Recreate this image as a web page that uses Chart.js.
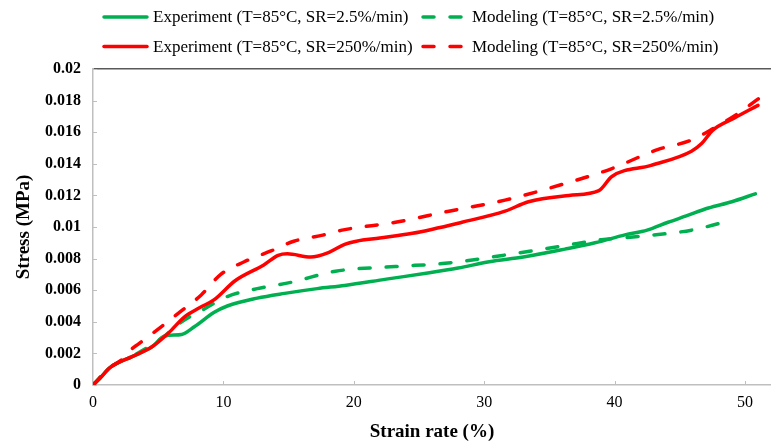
<!DOCTYPE html>
<html>
<head>
<meta charset="utf-8">
<script src="https://cdn.jsdelivr.net/npm/chart.js@4.4.1/dist/chart.umd.min.js"></script>
<style>
  html, body { margin: 0; padding: 0; background: #fff; }
  #wrap { position: relative; width: 771px; height: 445px; }
</style>
</head>
<body>
<div id="wrap"><canvas id="stress-chart"></canvas></div>
<script>
// --- DATA ---
const yTickLabels = ['0', '0.002', '0.004', '0.006', '0.008', '0.01', '0.012', '0.014', '0.016', '0.018', '0.02'];

// Experiment, T=85°C, SR=2.5%/min
const expSlowStrain = [0, 0.5, 1.3, 3.0, 4.5, 5.5, 6.8, 7.8, 9.3, 10.3, 12.6, 14.7, 17.2, 19.3, 22.5, 25.8, 28.0, 30.4, 33.0, 36.2, 38.5, 40.8, 42.5, 44.1, 45.5, 47.2, 49.0, 50.8];
const expSlowStress = [0, 0.0004, 0.0011, 0.0018, 0.0024, 0.0031, 0.0032, 0.0037, 0.0046, 0.0050, 0.0055, 0.0058, 0.0061, 0.0063, 0.0067, 0.0071, 0.0074, 0.0078, 0.0081, 0.0086, 0.0090, 0.0095, 0.0098, 0.0103, 0.0107, 0.0112, 0.0116, 0.0121];

// Modeling, T=85°C, SR=2.5%/min
const modSlowStrain = [0, 1.3, 3.2, 5.25, 6.8, 8.3, 10.3, 12.6, 15.2, 18.6, 23.2, 27.0, 31.4, 36.0, 39.0, 41.8, 45.9, 48.4];
const modSlowStress = [0, 0.0011, 0.0019, 0.00295, 0.0040, 0.0047, 0.0056, 0.0061, 0.0065, 0.0072, 0.0075, 0.0077, 0.0082, 0.0088, 0.0092, 0.0094, 0.0098, 0.0103];

// Experiment, T=85°C, SR=250%/min
const expFastStrain = [0, 0.5, 1.3, 3.0, 4.5, 5.8, 7.0, 8.2, 9.3, 10.9, 13.1, 14.2, 14.9, 16.7, 18.1, 19.3, 20.2, 22.0, 24.5, 28.3, 31.6, 33.4, 36.5, 38.8, 39.8, 42.8, 45.9, 46.7, 47.5, 49.2, 51.0];
const expFastStress = [0, 0.0004, 0.0011, 0.0018, 0.0024, 0.0033, 0.0043, 0.0049, 0.0054, 0.0066, 0.0076, 0.0082, 0.0083, 0.0081, 0.0084, 0.0089, 0.0091, 0.0093, 0.0096, 0.0103, 0.0110, 0.0116, 0.0120, 0.0123, 0.0132, 0.0139, 0.0148, 0.0153, 0.0161, 0.0169, 0.0177];

// Modeling, T=85°C, SR=250%/min
const modFastStrain = [0, 1.3, 2.2, 3.0, 3.5, 5.25, 6.8, 8.3, 9.8, 11.6, 13.7, 15.4, 17.7, 19.1, 23.2, 27.3, 31.6, 36.0, 39.8, 43.3, 45.9, 47.7, 49.5, 51.5];
const modFastStress = [0, 0.0011, 0.0016, 0.0023, 0.0026, 0.0037, 0.0047, 0.0057, 0.0070, 0.0078, 0.0085, 0.0091, 0.0095, 0.0098, 0.0103, 0.0110, 0.0117, 0.0127, 0.0137, 0.0149, 0.0155, 0.0163, 0.0172, 0.0184];

const GREEN = '#00b050';
const RED = '#ff0000';
const DASH = [11, 16];
const SERIF = "'Liberation Serif', 'Times New Roman', serif";

function toPoints(xs, ys) {
    return xs.map((x, i) => ({ x: x, y: ys[i] }));
}

function series(label, xs, ys, color, dashed, order) {
    return {
        label: label,
        data: toPoints(xs, ys),
        borderColor: color,
        backgroundColor: color,
        borderWidth: 3.5,
        borderDash: dashed ? DASH : [],
        borderCapStyle: 'round',
        cubicInterpolationMode: 'monotone',
        pointRadius: 0,
        fill: false,
        order: order
    };
}

// Excel-style legend: 2x2 grid above the plot
const gridLegend = {
    id: 'gridLegend',
    afterDraw(chart) {
        const ctx = chart.ctx;
        const cols = [102, 421];
        const rows = [17, 46.5];
        ctx.save();
        chart.data.datasets.forEach((ds, i) => {
            const x = cols[i % 2];
            const y = rows[Math.floor(i / 2)];
            ctx.beginPath();
            ctx.strokeStyle = ds.borderColor;
            ctx.lineWidth = 3.5;
            ctx.lineCap = 'round';
            ctx.setLineDash(ds.borderDash);
            ctx.moveTo(x + 2, y);
            ctx.lineTo(x + 45, y);
            ctx.stroke();
            ctx.setLineDash([]);
            ctx.fillStyle = '#000';
            ctx.font = '17px ' + SERIF;
            ctx.textBaseline = 'middle';
            ctx.textAlign = 'left';
            ctx.fillText(ds.label, x + 51, y + 1);
        });
        ctx.restore();
    }
};

// tick marks pointing into the plot
const innerTicks = {
    id: 'innerTicks',
    beforeDatasetsDraw(chart) {
        const { ctx, chartArea, scales: { x, y } } = chart;
        ctx.save();
        ctx.beginPath();
        ctx.strokeStyle = '#bfbfbf';
        ctx.lineWidth = 1;
        x.ticks.forEach(t => {
            const px = Math.round(x.getPixelForValue(t.value)) + 0.5;
            ctx.moveTo(px, chartArea.bottom);
            ctx.lineTo(px, chartArea.bottom - 4);
        });
        y.ticks.forEach(t => {
            const py = Math.round(y.getPixelForValue(t.value)) + 0.5;
            ctx.moveTo(chartArea.left, py);
            ctx.lineTo(chartArea.left + 4, py);
        });
        ctx.stroke();
        ctx.restore();
    }
};

const ctx = document.getElementById('stress-chart').getContext('2d');
const stressChart = new Chart(ctx, {
    type: 'line',
    data: {
        datasets: [
            series('Experiment (T=85°C, SR=2.5%/min)', expSlowStrain, expSlowStress, GREEN, false, 2),
            series('Modeling (T=85°C, SR=2.5%/min)', modSlowStrain, modSlowStress, GREEN, true, 3),
            series('Experiment (T=85°C, SR=250%/min)', expFastStrain, expFastStress, RED, false, 0),
            series('Modeling (T=85°C, SR=250%/min)', modFastStrain, modFastStress, RED, true, 1)
        ]
    },
    options: {
        responsive: true,
        maintainAspectRatio: false,
        animation: false,
        layout: { padding: { top: 69, right: 0, bottom: 0, left: 0 } },
        plugins: {
            legend: { display: false },
            tooltip: { enabled: false }
        },
        scales: {
            x: {
                type: 'linear',
                min: 0,
                max: 52,
                ticks: {
                    stepSize: 10,
                    includeBounds: false,
                    maxRotation: 0,
                    color: '#000',
                    padding: 8,
                    font: { family: SERIF, size: 16 }
                },
                grid: { drawOnChartArea: false, drawTicks: false },
                border: { color: '#bfbfbf', width: 1.5 },
                title: {
                    display: true,
                    text: 'Strain rate (%)',
                    color: '#000',
                    font: { family: SERIF, size: 19, weight: 'bold' },
                    padding: { top: 0, bottom: 2 }
                },
                afterFit: s => { s.height = 60; }
            },
            y: {
                min: 0,
                max: 0.02,
                ticks: {
                    stepSize: 0.002,
                    color: '#000',
                    padding: 12,
                    font: { family: SERIF, size: 16, weight: 'bold' },
                    callback: (v, i) => yTickLabels[i]
                },
                grid: {
                    drawTicks: false,
                    lineWidth: 1.5,
                    color: c => (c.index === yTickLabels.length - 1 ? '#595959' : 'rgba(0,0,0,0)')
                },
                border: { color: '#bfbfbf', width: 1.5 },
                title: {
                    display: true,
                    text: 'Stress (MPa)',
                    color: '#000',
                    font: { family: SERIF, size: 19, weight: 'bold' },
                    padding: { top: 13, bottom: 0 }
                },
                afterFit: s => { s.width = 93; }
            }
        }
    },
    plugins: [innerTicks, gridLegend]
});
</script>
</body>
</html>
